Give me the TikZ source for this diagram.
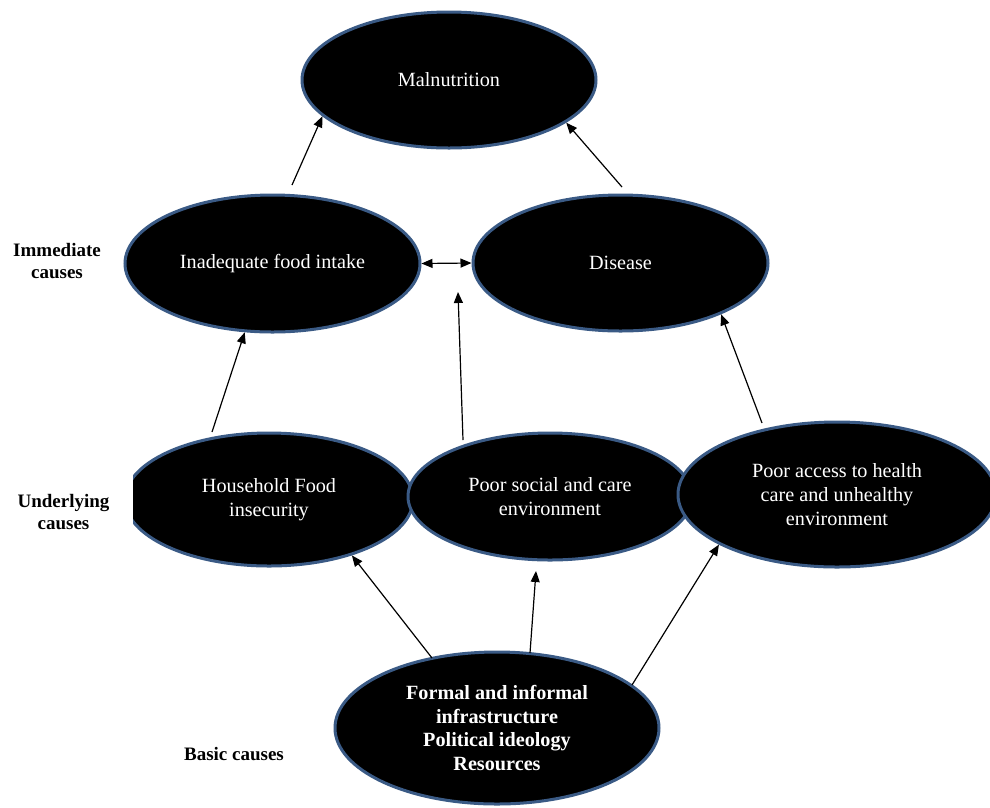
\documentclass[tikz,border=0pt]{standalone}
\usepackage{fontspec}
\setmainfont{Liberation Serif}
\usetikzlibrary{shapes.geometric,arrows.meta,calc}
\definecolor{rim}{HTML}{3A5A85}
\begin{document}
\begin{tikzpicture}[x=1pt,y=-1pt,
  ell/.style={ellipse,draw=rim,line width=3pt,fill=black,text=white,inner sep=0pt,align=center,font=\fontsize{20.2}{23.8}\selectfont},
  arr/.style={line width=1.2pt,-{Triangle[length=11pt,width=9pt]}},
  dblarr/.style={line width=1.2pt,{Triangle[length=11pt,width=9pt]}-{Triangle[length=11pt,width=9pt]}},
  lab/.style={align=center,font=\bfseries\fontsize{19}{22}\selectfont}]
\useasboundingbox[fill=white] (0,0) rectangle (990,807);

% immediate level
\node[ell,minimum width=294pt,minimum height=136pt] (M) at (449,80) {Malnutrition};
\node[ell,minimum width=295pt,minimum height=137pt] (I) at (272.5,263.5) {Inadequate food intake};
\node[ell,minimum width=295pt,minimum height=136pt] (D) at (620.5,263) {Disease};

% underlying level
\node[ell,minimum width=288pt,minimum height=133pt] (H) at (269,499.5) {Household Food\\insecurity};
\node[ell,minimum width=284pt,minimum height=127pt] (S) at (550,496.5) {Poor social and care\\environment};
\node[ell,minimum width=318pt,minimum height=145pt] (A) at (837,494.5) {Poor access to health\\care and unhealthy\\environment};

% basic level
\node[ell,minimum width=324pt,minimum height=152pt,font=\bfseries\fontsize{20.2}{23.5}\selectfont] (B) at (497,728) {Formal and informal\\infrastructure\\Political ideology\\Resources};

% white margin that cuts the left side of the household ellipse
\fill[white] (0,425) rectangle (133,575);

% level labels
\node[lab] (Limm) at (57,261) {Immediate\\causes};
\node[lab] (Lund) at (63.5,512) {Underlying\\causes};
\node[lab] (Lbas) at (234,754) {Basic causes};

% free ends
\coordinate (endS) at (458,292);
\coordinate (endB) at (536,571);

% connectors
\draw[arr] ($(I)+(19.5,-78.5)$) -- (M.196);
\draw[arr] ($(D)+(1.5,-76)$) -- (M.340.6);
\draw[dblarr] (I.east) -- (D.west);
\draw[arr] ($(H)+(-57,-67.5)$) -- (I.248.4);
\draw[arr] ($(S)+(-87,-56.5)$) -- (endS);
\draw[arr] ($(A)+(-75,-71.5)$) -- (D.333.1);
\draw[arr] ($(B)+(-65,-70)$) -- (H.326.1);
\draw[arr] ($(B)+(33,-75)$) -- (endB);
\draw[arr] ($(B)+(135,-43)$) -- (A.203.4);
\end{tikzpicture}
\end{document}
